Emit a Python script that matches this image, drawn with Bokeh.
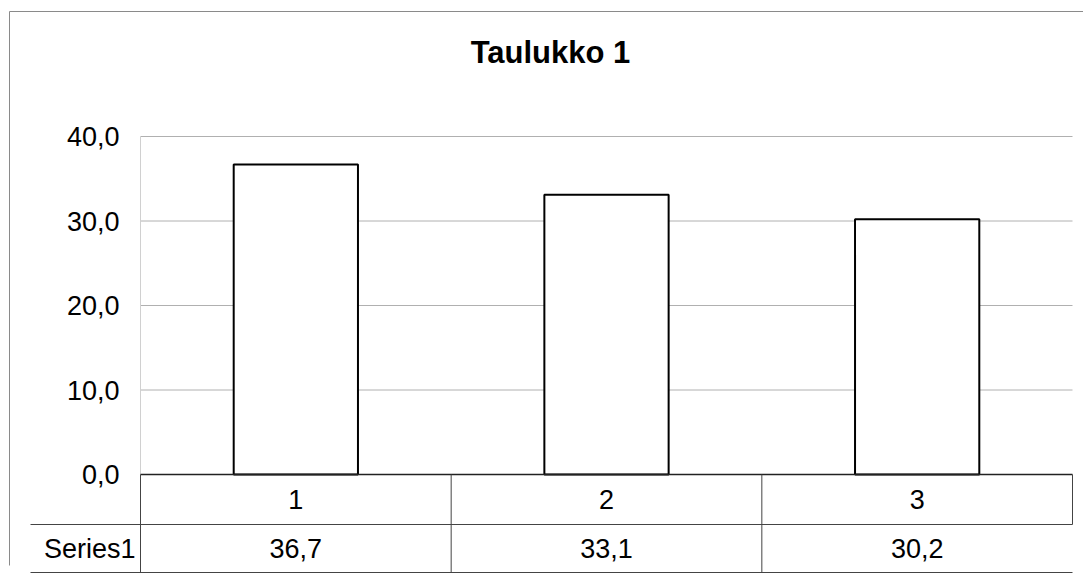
from bokeh.plotting import figure
from bokeh.models import ColumnDataSource, FixedTicker, LinearAxis, Range1d
from bokeh.core.properties import value
from bokeh.embed import file_html
from bokeh.resources import INLINE

# ---- data ----
title_text = "Taulukko 1"
categories = ["1", "2", "3"]
series_name = "Series1"
series_values = [36.7, 33.1, 30.2]
y_ticks = [0, 10, 20, 30, 40]


def fi(v):
    return f"{v:.1f}".replace(".", ",")


FONT = "Liberation Sans"

# ---- layout constants (canvas pixels) ----
W, H = 1083, 585
FRAME_L, FRAME_R = 140, 1072          # plot area edges
Y0_PX, Y40_PX = 474, 136              # pixel rows of 0 and 40
PX_PER_Y = (Y0_PX - Y40_PX) / 40.0
n = len(categories)
PX_PER_X = (FRAME_R - FRAME_L) / n


def X(px):
    return 0.5 + (px - FRAME_L) / PX_PER_X


def Y(py):
    return (Y0_PX - py) / PX_PER_Y


p = figure(width=W, height=H, output_backend="svg", toolbar_location=None,
           x_range=Range1d(X(0), X(W)), y_range=Range1d(Y(H), Y(0)),
           x_axis_type=None, y_axis_type=None,
           min_border_left=0, min_border_right=0, min_border_top=0,
           min_border_bottom=0)
p.outline_line_color = None
p.background_fill_color = "white"
p.border_fill_color = "white"
p.xgrid.visible = False
p.ygrid.visible = False

# y axis, drawn at the plot area's left edge
yaxis = LinearAxis(ticker=FixedTicker(ticks=y_ticks), fixed_location=0.5)
yaxis.major_label_overrides = {t: fi(t) for t in y_ticks}
yaxis.axis_line_color = None
yaxis.major_tick_line_color = None
yaxis.minor_tick_line_color = None
yaxis.major_tick_out = 0
yaxis.major_tick_in = 0
yaxis.major_label_standoff = 21
yaxis.major_label_text_font = FONT
yaxis.major_label_text_font_size = "27px"
yaxis.major_label_text_color = "black"
p.add_layout(yaxis, "left")

x_lo, x_hi = 0.5, n + 0.5

# gridlines (from the tick list) across the plot area
grid_t = [t for t in y_ticks if t > 0]
p.segment(x0=[x_lo] * len(grid_t), x1=[x_hi] * len(grid_t), y0=grid_t, y1=grid_t,
          line_color="#b0b0b0", line_width=1)
# faint plot area left edge
p.segment(x0=[x_lo], x1=[x_lo], y0=[0], y1=[y_ticks[-1]], line_color="#d0d0d0",
          line_width=1)

# bars
xs = list(range(1, n + 1))
src = ColumnDataSource(dict(x=xs, top=series_values, cat=categories,
                            lab=[fi(v) for v in series_values]))
p.vbar(x="x", top="top", width=0.4, bottom=0, source=src,
       fill_color="white", line_color="black", line_width=2)

# data table below the plot
y_mid = Y(524)
y_bot = Y(572)
x_left_tab = X(30)
row1_y = (0 + y_mid) / 2
row2_y = (y_mid + y_bot) / 2
p.segment(x0=[x_lo], x1=[x_hi], y0=[0], y1=[0], line_color="#222222", line_width=1.5)
p.segment(x0=[x_left_tab, x_left_tab], x1=[x_hi, x_hi], y0=[y_mid, y_bot],
          y1=[y_mid, y_bot], line_color="#444444", line_width=1)
vx = [x_lo + k for k in range(n + 1)]
p.segment(x0=vx, x1=vx, y0=[0] * (n + 1), y1=[y_bot] * n + [y_mid],
          line_color="#444444", line_width=1)

p.text(x="x", y=row1_y, text="cat", source=src, text_font=value(FONT),
       text_font_size="27px", text_align="center", text_baseline="middle",
       text_color="black")
p.text(x="x", y=row2_y, text="lab", source=src, text_font=value(FONT),
       text_font_size="27px", text_align="center", text_baseline="middle",
       text_color="black")
p.text(x=[x_lo], y=[row2_y], text=[series_name], x_offset=-5,
       text_font=value(FONT), text_font_size="27px", text_align="right",
       text_baseline="middle", text_color="black")

# title
p.text(x=[X(550)], y=[Y(52)], text=[title_text], text_font=value(FONT),
       text_font_size="31px", text_font_style="bold", text_align="center",
       text_baseline="middle", text_color="black")

# outer chart border (left + top), faint as in the scan
p.segment(x0=[X(9), X(9)], x1=[X(9), X(W)], y0=[Y(11), Y(11)], y1=[Y(565), Y(11)],
          line_color="#8a8a8a", line_width=1)

open("out.html", "w").write(file_html(p, INLINE))
